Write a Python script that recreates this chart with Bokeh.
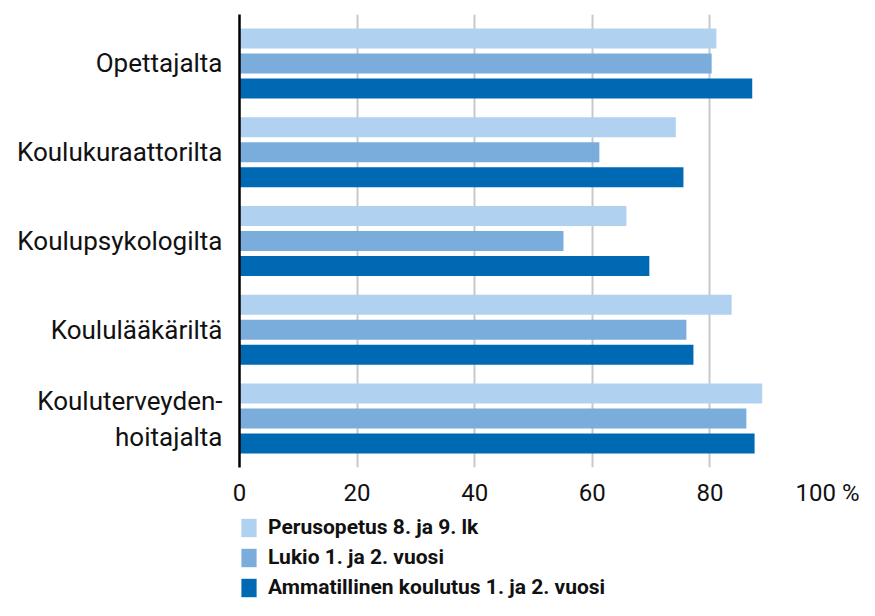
import numpy as np
from bokeh.plotting import figure
from bokeh.layouts import column
from bokeh.models import Range1d, FixedTicker, Legend, LegendItem, ColumnDataSource
from bokeh.embed import file_html
from bokeh.resources import INLINE

categories = ["Opettajalta", "Koulukuraattorilta", "Koulupsykologilta", "Koululääkäriltä",
              "Kouluterveyden-\nhoitajalta"]
series_names = ["Perusopetus 8. ja 9. lk", "Lukio 1. ja 2. vuosi", "Ammatillinen koulutus 1. ja 2. vuosi"]
perusopetus = [81.1, 74.2, 65.8, 83.7, 88.9]
lukio = [80.3, 61.2, 55.1, 76.0, 86.2]
ammatillinen = [87.2, 75.5, 69.7, 77.2, 87.6]
x_ticks = [0, 20, 40, 60, 80, 100]
x_tick_labels = ["0", "20", "40", "60", "80", "100 %"]
colors = ["#B0D1EF", "#7AACDC", "#0069B4"]

FONT = "Roboto"

p = figure(width=859, height=512, output_backend="svg", toolbar_location=None,
           x_range=Range1d(0, 100), y_range=Range1d(4.552, -0.552),
           min_border_left=239, min_border_right=32, min_border_top=14, min_border_bottom=45)
p.outline_line_color = None
p.background_fill_color = "white"

idx = np.arange(len(categories))
offsets = [-0.2817, 0.0, 0.2817]
for vals, off, col in zip([perusopetus, lukio, ammatillinen], offsets, colors):
    src = ColumnDataSource(dict(y=idx + off, right=vals))
    p.hbar(y="y", left=0, right="right", height=0.225, source=src,
           fill_color=col, line_color=None)

# x axis
p.xaxis.ticker = FixedTicker(ticks=x_ticks)
p.xaxis.major_label_overrides = {t: l for t, l in zip(x_ticks, x_tick_labels)}
p.xaxis.axis_line_color = None
p.xaxis.major_tick_line_color = None
p.xaxis.minor_tick_line_color = None
p.xaxis.major_label_text_font = FONT
p.xaxis.major_label_text_font_size = "24px"
p.xaxis.major_label_text_color = "#111111"
p.xaxis.major_label_standoff = 5

# y axis
p.yaxis.ticker = FixedTicker(ticks=list(idx))
p.yaxis.major_label_overrides = {int(i): c for i, c in zip(idx, categories)}
p.yaxis.axis_line_color = "black"
p.yaxis.axis_line_width = 2.5
p.yaxis.major_tick_line_color = None
p.yaxis.minor_tick_line_color = None
p.yaxis.major_label_text_font = FONT
p.yaxis.major_label_text_font_size = "26px"
p.yaxis.major_label_text_color = "#111111"
p.yaxis.major_label_standoff = 11

p.ygrid.grid_line_color = None
p.xgrid.ticker = FixedTicker(ticks=x_ticks[1:])
p.xgrid.grid_line_color = "#C8C8C8"
p.xgrid.grid_line_width = 2

# legend figure (its frame lines up with the chart's frame)
p2 = figure(width=859, height=88, output_backend="svg", toolbar_location=None,
            x_range=Range1d(0, 1), y_range=Range1d(0, 1),
            min_border_left=239, min_border_right=32, min_border_top=0, min_border_bottom=0)
p2.axis.visible = False
p2.grid.grid_line_color = None
p2.outline_line_color = None
items = []
for col, name in zip(colors, series_names):
    # zero-width proxy bars; only their legend swatches show
    r = p2.hbar(y=[0.5], left=[0], right=[0], height=0.0, fill_color=col, line_color=None)
    items.append(LegendItem(label=name, renderers=[r]))

legend = Legend(items=items, location=(0, 1), orientation="vertical",
                glyph_width=19, glyph_height=23, label_standoff=10, spacing=6,
                padding=0, margin=0, border_line_color=None, background_fill_alpha=0,
                label_text_font=FONT, label_text_font_size="21px", label_text_font_style="bold",
                label_text_color="#111111", label_height=23)
p2.add_layout(legend, "center")

layout = column(p, p2, spacing=0)
open("out.html", "w").write(file_html(layout, INLINE))
